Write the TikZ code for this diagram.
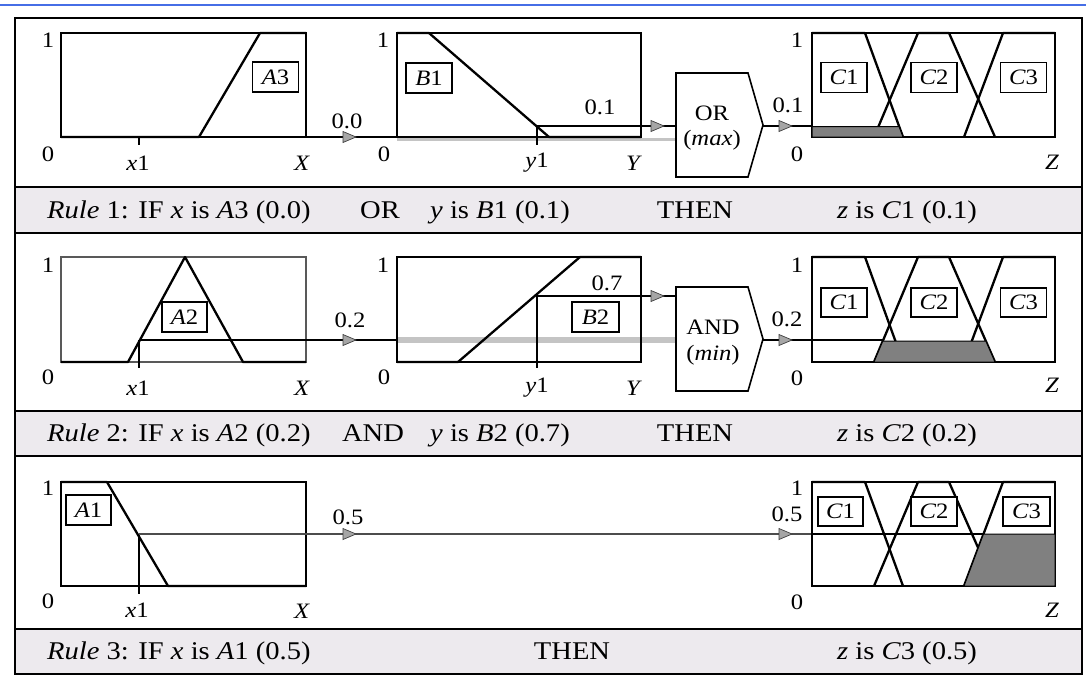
\documentclass[tikz,border=0pt]{standalone}
\usepackage{fontspec}
\setmainfont{Liberation Serif}[FakeStretch=1.12]
\definecolor{bandgray}{RGB}{237,234,238}
\definecolor{bluerule}{RGB}{70,110,230}
\definecolor{fillgray}{RGB}{128,128,128}
\definecolor{trackgray}{RGB}{196,196,196}
\newcommand\ahead[2]{\filldraw[fill=black!35, draw=black!75, line width=0.7pt] (#1-7,#2-5.5) -- (#1+6,#2) -- (#1-7,#2+5.5) -- cycle;}
\newcommand\Cset[2]{%
  \draw[mf] (812,#1) -- (865,#1) -- (903,#2);
  \draw[mf] (874,#2) -- (918,#1) -- (949,#1) -- (995,#2);
  \draw[mf] (964,#2) -- (1003,#1) -- (1055,#1);
  \draw[mf] (964,#2) -- (995,#2);}
\begin{document}
\begin{tikzpicture}[x=1pt,y=-1pt,
  chartbox/.style={draw, line width=1.3pt},
  mf/.style={line width=2.3pt, line join=round},
  sig/.style={line width=1.1pt},
  lbl/.style={font=\fontsize{22}{26}\selectfont, inner sep=0pt},
  ruletxt/.style={font=\fontsize{25.5}{30}\selectfont, inner sep=0pt, anchor=base},
  tag/.style={draw, fill=white, line width=1.2pt, inner sep=0pt, font=\fontsize{22}{26}\selectfont, minimum height=30pt, minimum width=46pt},
  gate/.style={draw, line width=1.6pt, fill=white},
  band/.style={fill=bandgray},
  sep/.style={line width=2.4pt}]
\useasboundingbox (0,0) rectangle (1086,697);
\fill[white] (0,0) rectangle (1086,697);
\draw[bluerule, line width=2pt] (0,5) -- (1086,5);

% bands
\fill[band] (15,187) rectangle (1082,233);
\fill[band] (15,411) rectangle (1082,456);
\fill[band] (15,629) rectangle (1082,674);
\draw[sep] (15,187) -- (1082,187);
\draw[sep] (15,233) -- (1082,233);
\draw[sep] (15,411) -- (1082,411);
\draw[sep] (15,456) -- (1082,456);
\draw[sep] (15,629) -- (1082,629);
\draw[sep] (15,18) rectangle (1082,674);

% ================= Row 1 =================
\draw[chartbox] (61,33) rectangle (306,137);
\draw[mf] (61,137) -- (199,137) -- (260,33) -- (306,33);
\draw[sig] (139,137) -- (139,145);
\node[tag] (tA3) at (275.5,77) {\textit{A}3};
\node[lbl] (a1one) at (48,40) {1};
\node[lbl] (a1zero) at (48,154) {0};
\node[lbl] (a1x) at (138,163) {\textit{x}1};
\node[lbl] (a1X) at (302,163) {\textit{X}};
\draw[sig] (306,137) -- (397,137);
\ahead{350}{137}
\node[lbl] (v00) at (347,121) {0.0};

\draw[trackgray, line width=3pt] (397,139.5) -- (676,139.5);
\draw[chartbox] (397,33) rectangle (641,137);
\draw[mf] (397,33) -- (429,33) -- (549,137) -- (641,137);
\draw[sig] (537,126) -- (537,145);
\draw[sig] (537,126) -- (676,126);
\ahead{658}{126}
\node[tag] (tB1) at (429,78) {\textit{B}1};
\node[lbl] (v01) at (600,107) {0.1};
\node[lbl] (b1one) at (383,40) {1};
\node[lbl] (b1zero) at (384,154) {0};
\node[lbl] (b1y) at (537,163) {\textit{y}1};
\node[lbl] (b1Y) at (634,163) {\textit{Y}};

\draw[gate] (676,73) -- (748,73) -- (763,125) -- (748,177) -- (676,177) -- cycle;
\node[lbl] (orT) at (712,113) {OR};
\node[lbl] (orM) at (712,140) {(\textit{max})};
\draw[sig] (763,126) -- (812,126);
\ahead{786}{126}
\node[lbl] (o01) at (788,105) {0.1};

\draw[chartbox] (812,33) rectangle (1055,137);
\Cset{33}{137}
\filldraw[fill=fillgray, draw=black, line width=1pt] (812,137) -- (812,126.5) -- (899,126.5) -- (903,137) -- cycle;
\node[tag] (c1a) at (844,77.5) {\textit{C}1};
\node[tag] (c2a) at (934,77.5) {\textit{C}2};
\node[tag, line width=1.6pt] (c3a) at (1023.5,77.5) {\textit{C}3};
\node[lbl] (c1one) at (797,40) {1};
\node[lbl] (c1zero) at (797,154) {0};
\node[lbl] (c1Z) at (1052,162) {\textit{Z}};

\node[ruletxt, anchor=base west] (r1a) at (47,218) {\textit{Rule} 1: IF \textit{x} is \textit{A}3 (0.0)};
\node[ruletxt] (r1b) at (380,218) {OR};
\node[ruletxt, anchor=base west] (r1c) at (430,218) {\textit{y} is \textit{B}1 (0.1)};
\node[ruletxt] (r1d) at (695,218) {THEN};
\node[ruletxt] (r1e) at (907,218) {\textit{z} is \textit{C}1 (0.1)};

% ================= Row 2 =================
\draw[chartbox, draw=black!65] (61,257) rectangle (306,362);
\draw[mf] (61,362) -- (128,362) -- (185,257) -- (243,362) -- (306,362);
\draw[sig] (139,340) -- (139,368);
\draw[sig] (139,340) -- (397,340);
\ahead{350}{340}
\node[tag, minimum width=45pt] (tA2) at (184.5,317) {\textit{A}2};
\node[lbl] (v02) at (350,320) {0.2};
\node[lbl] (a2one) at (48,265) {1};
\node[lbl] (a2zero) at (48,377) {0};
\node[lbl] (a2x) at (138,388) {\textit{x}1};
\node[lbl] (a2X) at (302,388) {\textit{X}};

\draw[trackgray, line width=6pt] (397,340) -- (676,340);
\draw[chartbox] (397,257) rectangle (641,362);
\draw[mf] (397,362) -- (458,362) -- (580,257) -- (641,257);
\draw[sig] (537,296) -- (537,368);
\draw[sig] (537,296) -- (676,296);
\ahead{658}{296}
\node[tag, minimum width=47pt] (tB2) at (595.5,317) {\textit{B}2};
\node[lbl] (v07) at (607,283) {0.7};
\node[lbl] (b2one) at (383,265) {1};
\node[lbl] (b2zero) at (384,377) {0};
\node[lbl] (b2y) at (537,388) {\textit{y}1};
\node[lbl] (b2Y) at (634,388) {\textit{Y}};

\draw[gate] (676,287) -- (748,287) -- (763,339) -- (748,391) -- (676,391) -- cycle;
\node[lbl] (andT) at (713,327) {AND};
\node[lbl] (andM) at (713,355) {(\textit{min})};
\draw[sig] (763,340) -- (883,340);
\ahead{786}{340}
\node[lbl] (o02) at (787,319) {0.2};

\draw[chartbox] (812,257) rectangle (1055,362);
\Cset{257}{362}
\filldraw[fill=fillgray, draw=black, line width=1pt] (874,362) -- (882.8,341) -- (985.8,341) -- (995,362) -- cycle;
\node[tag, minimum height=29pt] (c1b) at (844,302.5) {\textit{C}1};
\node[tag, minimum height=29pt] (c2b) at (934,302.5) {\textit{C}2};
\node[tag, minimum height=29pt] (c3b) at (1023.5,302.5) {\textit{C}3};
\node[lbl] (c2one) at (797,265) {1};
\node[lbl] (c2zero) at (797,378) {0};
\node[lbl] (c2Z) at (1052,385) {\textit{Z}};

\node[ruletxt, anchor=base west] (r2a) at (47,441.5) {\textit{Rule} 2: IF \textit{x} is \textit{A}2 (0.2)};
\node[ruletxt] (r2b) at (373,441.5) {AND};
\node[ruletxt, anchor=base west] (r2c) at (430,441.5) {\textit{y} is \textit{B}2 (0.7)};
\node[ruletxt] (r2d) at (695,441.5) {THEN};
\node[ruletxt] (r2e) at (907,441.5) {\textit{z} is \textit{C}2 (0.2)};

% ================= Row 3 =================
\draw[chartbox] (61,482) rectangle (306,586);
\draw[mf] (61,482) -- (107,482) -- (168,586) -- (306,586);
\draw[sig] (139,534) -- (139,594);
\draw[sig, draw=black!70] (139,534) -- (812,534);
\ahead{350}{534}
\ahead{786}{534}
\node[tag, minimum width=45pt] (tA1) at (88.5,510) {\textit{A}1};
\node[lbl] (v05) at (348,517) {0.5};
\node[lbl] (a3one) at (48,488) {1};
\node[lbl] (a3zero) at (48,601) {0};
\node[lbl] (a3x) at (137,610) {\textit{x}1};
\node[lbl] (a3X) at (302,611) {\textit{X}};

\draw[chartbox] (812,482) rectangle (1055,586);
\Cset{482}{586}
\draw[sig] (812,534) -- (984,534);
\filldraw[fill=fillgray, draw=black, line width=1pt] (964,586) -- (983.5,534) -- (1055,534) -- (1055,586) -- cycle;
\node[tag, minimum height=29pt, minimum width=45pt] (c1c) at (840.5,511.5) {\textit{C}1};
\node[tag, minimum height=29pt] (c2c) at (934,511.5) {\textit{C}2};
\node[tag, minimum height=29pt, minimum width=47pt] (c3c) at (1026.5,511.5) {\textit{C}3};
\node[lbl] (c3one) at (797,488) {1};
\node[lbl] (o05) at (787,514) {0.5};
\node[lbl] (c3zero) at (797,602) {0};
\node[lbl] (c3Z) at (1052,610) {\textit{Z}};

\node[ruletxt, anchor=base west] (r3a) at (47,659.5) {\textit{Rule} 3: IF \textit{x} is \textit{A}1 (0.5)};
\node[ruletxt] (r3d) at (572,659.5) {THEN};
\node[ruletxt] (r3e) at (907,659.5) {\textit{z} is \textit{C}3 (0.5)};
\end{tikzpicture}
\end{document}
